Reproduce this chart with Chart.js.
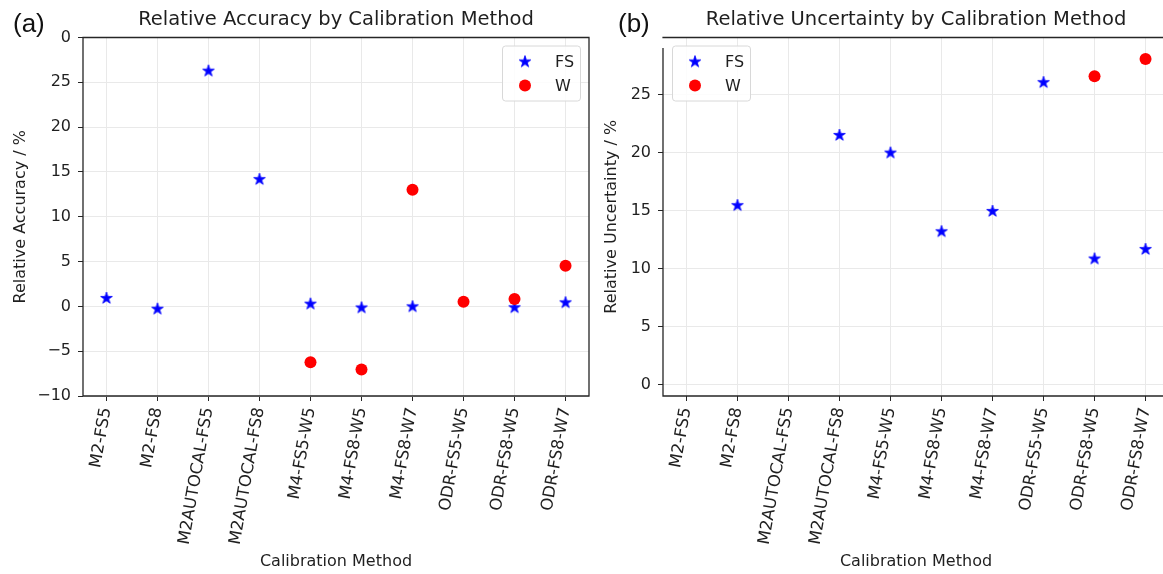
<!DOCTYPE html>
<html><head><meta charset="utf-8">
<script src="https://cdn.jsdelivr.net/npm/chart.js@4/dist/chart.umd.min.js"></script>
<style>
html,body{margin:0;padding:0;background:#fff;}
#wrap{position:relative;width:1163px;height:574px;overflow:hidden;background:#fff;}
#ca{position:absolute;left:0;top:0;}
#cb{position:absolute;left:600px;top:0;}
.tag{position:absolute;font-family:"Liberation Sans",Arial,sans-serif;font-size:26px;line-height:26px;color:#111;}
</style></head><body>
<div id="wrap">
<canvas id="ca" width="600" height="574"></canvas>
<canvas id="cb" width="580" height="574"></canvas>
<div class="tag" style="left:13px;top:10px;">(a)</div>
<div class="tag" style="left:618px;top:10px;">(b)</div>
</div>
<script>
const categories = ['M2-FS5','M2-FS8','M2AUTOCAL-FS5','M2AUTOCAL-FS8','M4-FS5-W5','M4-FS8-W5','M4-FS8-W7','ODR-FS5-W5','ODR-FS8-W5','ODR-FS8-W7'];
const accuracyFS = [0.94, -0.26, 26.3, 14.2, 0.3, -0.12, 0.0, null, -0.1, 0.45];
const accuracyW  = [null, null, null, null, -6.24, -7.05, 13.0, 0.52, 0.82, 4.53];
const uncertaintyFS = [null, 15.5, null, 21.55, 20.03, 13.25, 15.0, 26.1, 10.9, 11.72];
const uncertaintyW  = [null, null, null, null, null, null, null, null, 26.6, 28.1];
const accuracyTicks = [-10, -5, 0, 5, 10, 15, 20, 25, 30];
const accuracyTickLabels = ['\u221210', '\u22125', '0', '5', '10', '15', '20', '25', '0'];
const uncertaintyTicks = [0, 5, 10, 15, 20, 25];
const uncertaintyTickLabels = ['0', '5', '10', '15', '20', '25'];

const FONT = '"DejaVu Sans", sans-serif';
const TXT = '#1f1f1f';

function starCanvas(color, r) {
  const s = Math.ceil(2 * r + 3);
  const c = document.createElement('canvas');
  c.width = s; c.height = s;
  const g = c.getContext('2d');
  const cx = s / 2, cy = s / 2 + r * 0.05;
  g.beginPath();
  for (let k = 0; k < 10; k++) {
    const rr = k % 2 === 0 ? r : r * 0.382;
    const a = -Math.PI / 2 + k * Math.PI / 5;
    const px = cx + rr * Math.cos(a), py = cy + rr * Math.sin(a);
    if (k === 0) g.moveTo(px, py); else g.lineTo(px, py);
  }
  g.closePath();
  g.fillStyle = color; g.fill();
  g.lineWidth = 0.8; g.strokeStyle = color; g.stroke();
  return c;
}
const starImg = starCanvas('#0000ff', 6.2);

function toPoints(vals) {
  const out = [];
  vals.forEach((v, i) => { if (v !== null) out.push({x: i, y: v}); });
  return out;
}

const spinesPlugin = {
  id: 'spines',
  afterDraw(chart, args, opts) {
    const {ctx, chartArea: a} = chart;
    ctx.save();
    ctx.strokeStyle = '#262626';
    ctx.lineWidth = 1.3;
    ctx.beginPath();
    ctx.moveTo(a.left, a.top + (opts.leftGap || 0));
    ctx.lineTo(a.left, a.bottom);
    ctx.lineTo(a.right + 0.6, a.bottom);
    ctx.moveTo(a.left - 0.6, a.top);
    ctx.lineTo(a.right + 0.6, a.top);
    if (opts.rightSpine) {
      ctx.moveTo(a.right, a.top);
      ctx.lineTo(a.right, a.bottom);
    }
    ctx.stroke();
    ctx.restore();
  }
};

const legendPlugin = {
  id: 'boxLegend',
  afterDraw(chart, args, opts) {
    const {ctx, chartArea: a} = chart;
    const w = 78, h = 55;
    const x0 = opts.side === 'right' ? a.right - 9 - w : a.left + 9;
    const y0 = a.top + 8;
    ctx.save();
    ctx.beginPath();
    if (ctx.roundRect) ctx.roundRect(x0 + 0.5, y0 + 0.5, w, h, 3); else ctx.rect(x0 + 0.5, y0 + 0.5, w, h);
    ctx.fillStyle = 'rgba(255,255,255,0.85)';
    ctx.fill();
    ctx.strokeStyle = '#d8d8d8';
    ctx.lineWidth = 1;
    ctx.stroke();
    chart.data.datasets.forEach((ds, i) => {
      const cy = y0 + 16 + i * 24;
      const mx = x0 + 23;
      if (ds.pointStyle instanceof HTMLCanvasElement) {
        ctx.drawImage(ds.pointStyle, mx - ds.pointStyle.width / 2, cy - ds.pointStyle.height / 2);
      } else {
        ctx.beginPath();
        ctx.arc(mx, cy, ds.pointRadius, 0, Math.PI * 2);
        ctx.fillStyle = ds.backgroundColor;
        ctx.fill();
      }
      ctx.fillStyle = TXT;
      ctx.font = '16px ' + FONT;
      ctx.textBaseline = 'middle';
      ctx.textAlign = 'left';
      ctx.fillText(ds.label, x0 + 53, cy + 1);
    });
    ctx.restore();
  }
};

function makeChart(id, cfg) {
  return new Chart(document.getElementById(id), {
    type: 'scatter',
    data: {
      datasets: [
        {label: 'FS', data: toPoints(cfg.fs), pointStyle: starImg, pointRadius: 6,
         backgroundColor: '#0000ff', borderColor: '#0000ff', order: 2},
        {label: 'W', data: toPoints(cfg.w), pointStyle: 'circle', pointRadius: 6, pointBorderWidth: 0,
         backgroundColor: '#ff0000', borderColor: '#ff0000', order: 1}
      ]
    },
    options: {
      responsive: false,
      animation: false,
      events: [],
      layout: {padding: {left: 0, right: cfg.padRight, top: 0, bottom: 0}},
      plugins: {
        legend: {display: false},
        tooltip: {enabled: false},
        title: {display: true, text: cfg.title, fullSize: false, color: TXT,
                font: {family: FONT, size: 19.5, weight: 'normal', lineHeight: 1.2},
                padding: {top: 8.3, bottom: 5.8}},
        boxLegend: {side: cfg.legendSide},
        spines: {leftGap: cfg.leftGap, rightSpine: cfg.rightSpine}
      },
      scales: {
        x: {
          type: 'linear', min: -0.46, max: 9.46,
          afterBuildTicks: s => { s.ticks = categories.map((_, i) => ({value: i})); },
          afterFit: s => { s.height = 178; },
          ticks: {autoSkip: false, minRotation: 80, maxRotation: 80, padding: 5,
                  font: {family: FONT, size: 16.5}, color: TXT,
                  callback: v => categories[v]},
          grid: {color: '#e9e9e9', tickColor: '#262626', tickLength: 5, lineWidth: 1},
          border: {display: false},
          title: {display: true, text: 'Calibration Method', color: TXT,
                  font: {family: FONT, size: 16}, padding: {top: 0, bottom: 2.4}}
        },
        y: {
          type: 'linear', min: cfg.yMin, max: cfg.yMax,
          afterBuildTicks: s => { s.ticks = cfg.yTicks.map(v => ({value: v})); },
          afterFit: s => { s.width = cfg.yWidth; },
          ticks: {padding: 7, font: {family: FONT, size: 16}, color: TXT,
                  callback: v => cfg.yLabels[cfg.yTicks.indexOf(v)]},
          grid: {color: '#e9e9e9', tickColor: '#262626', tickLength: 5, lineWidth: 1},
          border: {display: false},
          title: {display: true, text: cfg.yTitle, color: TXT,
                  font: {family: FONT, size: 16}, padding: {top: cfg.yTitlePad, bottom: 0}}
        }
      }
    },
    plugins: [spinesPlugin, legendPlugin]
  });
}

makeChart('ca', {
  fs: accuracyFS, w: accuracyW,
  title: 'Relative Accuracy by Calibration Method',
  yTitle: 'Relative Accuracy / %',
  yMin: -10, yMax: 30, yTicks: accuracyTicks, yLabels: accuracyTickLabels,
  yWidth: 83, yTitlePad: 11, padRight: 11, legendSide: 'right', leftGap: 0, rightSpine: true
});
makeChart('cb', {
  fs: uncertaintyFS, w: uncertaintyW,
  title: 'Relative Uncertainty by Calibration Method',
  yTitle: 'Relative Uncertainty / %',
  yMin: -0.95, yMax: 29.95, yTicks: uncertaintyTicks, yLabels: uncertaintyTickLabels,
  yWidth: 63, yTitlePad: 2.4, padRight: 11, legendSide: 'left', leftGap: 10.5, rightSpine: false
});
</script>
</body></html>
